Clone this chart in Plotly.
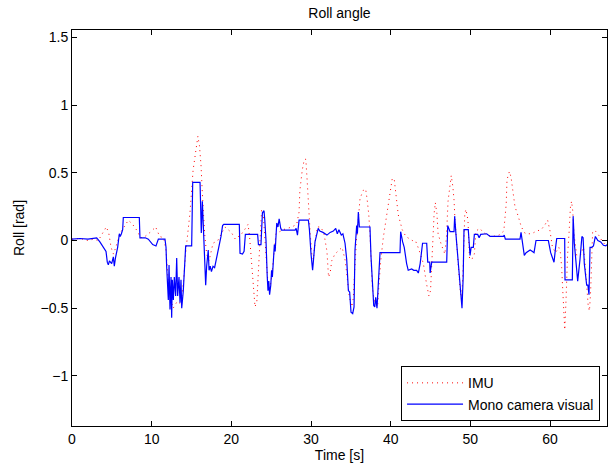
import plotly.graph_objects as go

# Mono camera visual (blue)
t_cam = [0, 1.0, 2.0, 3.1, 3.5, 3.93, 4.27, 4.43, 4.56, 4.7, 4.98, 5.19, 5.31, 5.45, 5.73, 5.94, 6.05, 6.2, 6.36, 6.44,
         8.45, 8.53, 9.2, 9.58, 10.13, 10.54, 10.84, 11.67, 11.8,
         11.88, 12.01, 12.09, 12.18, 12.30, 12.43, 12.51, 12.59, 12.72, 12.84, 13.01, 13.14, 13.26, 13.43, 13.56, 13.68,
         13.77, 13.97, 14.10, 14.18, 14.27, 15.02, 15.15, 16.07, 16.23, 16.36, 16.48, 16.6, 16.78, 16.9, 17.1, 17.2,
         17.35, 17.5, 17.7, 17.9, 18.16, 18.37, 18.6, 18.7, 18.9, 19.05, 21.0, 21.09, 21.4, 21.6, 21.76, 23.3, 23.4,
         23.72, 23.9, 24.1, 24.2, 24.35, 24.5, 24.6, 24.7, 24.8, 24.95, 25.05, 25.15, 25.4, 25.5, 25.7, 25.85, 26.0,
         26.2, 26.3, 28.0, 28.13, 28.3, 28.5, 29.67, 29.8, 30.0, 30.2, 30.3, 30.5, 30.9, 31.1, 31.5, 32.0, 32.4, 32.8,
         33.1, 33.3, 33.5, 33.8, 34.0, 34.27, 34.48, 34.69, 34.85, 35.02, 35.23, 35.4, 35.52, 35.73, 35.82, 35.94,
         36.07, 37.4, 37.53, 37.7, 37.87, 38.0, 38.12, 38.28, 38.45, 38.66, 41.17, 41.25, 41.5, 41.7, 42.0, 42.2,
         42.63, 42.9, 43.26, 43.47, 43.7, 44.0, 44.52, 44.65, 44.9, 44.95, 45.15, 47.03, 47.16, 47.3, 47.45, 47.95,
         48.03, 48.2, 48.4, 48.58, 48.79, 48.85, 48.95, 49.1, 49.2, 49.74, 49.87, 49.96, 50.1, 50.37, 50.5, 50.92,
         51.1, 51.3, 52.05, 52.47, 54.14, 54.25, 54.39, 56.23, 56.36, 56.6, 56.77, 57.0, 57.3, 57.5, 57.75, 57.99,
         58.24, 59.79, 60.08, 60.5, 60.7, 60.84, 61.84, 61.88, 62.8, 62.9, 63.05, 63.25, 63.47, 63.76, 64.0, 64.15,
         64.3, 64.6, 64.75, 64.89, 65.02, 65.23, 65.45, 65.69, 66.0, 66.36, 66.7, 67.0, 67.15]
roll_cam = [0.01, 0.015, 0.01, 0.02, -0.01, -0.05, -0.08, -0.16, -0.18, -0.15, -0.17, -0.12, -0.19, -0.13, -0.05, 0.05, 0.03, 0.05, 0.08, 0.17,
            0.17, 0.02, 0.02, 0.01, -0.03, -0.04, 0.01, 0.01, -0.05,
            -0.19, -0.30, -0.44, -0.18, -0.51, -0.27, -0.57, -0.29, -0.44, -0.27, -0.41, -0.13, -0.41, -0.27, -0.46, -0.29,
            -0.50, -0.37, -0.19, -0.09, -0.04, -0.04, 0.43, 0.43, 0.055, 0.29, 0.07, 0.0, -0.33, -0.19, -0.07, -0.22,
            -0.19, -0.23, -0.19, -0.2, -0.13, -0.07, -0.02, 0.03, 0.11, 0.12, 0.12, -0.095, -0.1, -0.08, 0.045, 0.045, -0.03,
            -0.03, 0.205, 0.22, 0.15, 0.0, -0.26, -0.37, -0.3, -0.4, -0.33, -0.22, -0.27, -0.03, -0.08, 0.13, 0.1, 0.16,
            0.09, 0.077, 0.077, 0.09, 0.04, 0.15, 0.15, 0.08, -0.1, -0.22, -0.15, -0.01, 0.09, 0.07, 0.06, 0.04, 0.06, 0.07,
            0.09, 0.05, 0.08, 0.04, 0.05, -0.02, -0.14, -0.37, -0.38, -0.53, -0.54, -0.49, -0.07, 0.11, 0.05, 0.21,
            0.10, 0.10, -0.12, -0.32, -0.48, -0.49, -0.42, -0.50, -0.28, -0.09, -0.09, 0.065, -0.01, -0.05, -0.17, -0.22,
            -0.21, -0.22, -0.22, -0.24, -0.17, -0.02, -0.02, -0.16, -0.16, -0.24, -0.16, -0.16, 0.11, 0.08, 0.065, 0.065,
            0.18, 0.04, -0.09, -0.24, -0.39, -0.44, -0.50, -0.27, 0.08, 0.08, -0.09, -0.11, -0.05, -0.05, 0.045, 0.045,
            0.02, 0.045, 0.05, 0.03, 0.03, 0.04, 0.01, 0.01, 0.06, -0.05, -0.11, -0.09, -0.08, -0.07, -0.08, -0.09,
            0.0, 0.0, -0.09, -0.16, -0.05, 0.015, 0.015, -0.29, -0.29, 0.18, -0.02, -0.19, -0.30, -0.14, 0.03, 0.02,
            -0.17, -0.33, -0.33, -0.40, -0.05, -0.05, -0.04, 0.03, 0.0, -0.01, -0.035, -0.04, -0.03]

# IMU (red dotted)
t_imu = [0, 1.0, 2.0, 2.7, 3.3, 3.8, 4.3, 4.6, 4.9, 5.2, 5.5, 6.0, 6.5, 7.07, 7.6, 8.2, 8.6, 9.16, 9.8, 10.5, 11.0,
         11.5, 11.8, 12.2, 12.7, 13.2, 13.7, 14.0, 14.27, 14.5, 14.8, 15.2, 15.65, 15.8, 16.0, 16.2, 16.36, 16.5,
         16.65, 16.9, 17.2, 17.7, 18.3, 19.2, 20.0, 20.5, 21.3, 21.9, 22.1, 22.3, 22.5, 22.7, 22.97, 23.2, 23.4,
         23.6, 23.8, 24.0, 24.2, 24.4, 24.6, 24.8, 25.0, 25.3, 25.6, 26.5, 27.6, 28.2, 28.5, 28.6, 28.9, 29.16,
         29.35, 29.5, 29.7, 29.9, 30.1, 30.3, 30.5, 30.8, 31.2, 31.6, 32.0, 32.2, 32.4, 32.6, 33.0, 33.9, 34.3,
         34.6, 34.8, 35.1, 35.3, 35.5, 35.7, 36.0, 36.15, 36.55, 36.86, 37.05, 37.25, 37.4, 37.55, 37.7, 37.95,
         38.35, 38.5, 38.75, 39.07, 39.5, 39.9, 40.2, 40.45, 40.75, 40.95, 41.45, 41.9, 42.7, 43.1, 43.5, 44.1,
         44.5, 44.8, 45.0, 45.15, 45.3, 45.45, 45.6, 45.8, 45.95, 46.35, 46.8, 47.0, 47.2, 47.4, 47.6, 47.8, 47.95,
         48.07, 48.3, 48.5, 48.7, 48.9, 49.1, 49.3, 49.45, 49.7, 49.9, 50.3, 50.5, 50.7, 51.2, 51.6, 52.2, 52.8,
         53.6, 54.2, 54.5, 54.6, 54.9, 55.1, 55.3, 55.6, 56.0, 56.4, 56.9, 57.7, 58.3, 58.9, 59.4, 59.7, 60.0,
         60.3, 60.7, 61.1, 61.3, 61.46, 61.6, 61.76, 61.85, 62.0, 62.2, 62.4, 62.55, 62.7, 62.85, 63.0, 63.35,
         63.8, 64.2, 64.4, 64.6, 64.8, 64.95, 65.1, 65.25, 65.35, 65.7, 66.1, 66.5, 66.9, 67.15]
roll_imu = [0.01, 0.015, 0.0, 0.01, 0.0, 0.05, 0.1, 0.06, -0.05, -0.1, -0.05, 0.05, 0.1, 0.15, 0.12, 0.07, 0.02, 0.03, 0.06, 0.1, 0.03,
            0.02, -0.07, -0.4, -0.5, -0.45, -0.47, -0.3, -0.09, 0.05, 0.2, 0.52, 0.74, 0.77, 0.7, 0.55, 0.35, 0.18,
            0.05, -0.1, -0.15, -0.02, 0.0, 0.1, 0.06, 0.01, 0.05, 0.1, 0.12, 0.02, -0.12, -0.29, -0.49, -0.45, -0.25,
            0.0, 0.23, 0.2, 0.05, -0.15, -0.32, -0.35, -0.3, -0.1, 0.05, 0.08, 0.1, 0.12, 0.21, 0.37, 0.52, 0.6,
            0.6, 0.46, 0.2, 0.05, -0.1, -0.14, -0.02, 0.1, 0.1, 0.06, -0.08, -0.27, -0.24, -0.15, -0.1, -0.05, -0.15,
            -0.29, -0.41, -0.49, -0.43, -0.2, 0.0, 0.2, 0.31, 0.37, 0.38, 0.3, 0.19, 0.05, -0.15, -0.35, -0.45,
            -0.49, -0.35, -0.15, 0.02, 0.2, 0.36, 0.46, 0.45, 0.3, 0.19, 0.08, 0.03, 0.0, 0.0, -0.06, -0.17,
            -0.32, -0.41, -0.37, -0.17, 0.07, 0.2, 0.28, 0.2, 0.05, -0.03, -0.1, 0.03, 0.29, 0.4, 0.48, 0.4, 0.3,
            0.15, -0.05, -0.22, -0.35, -0.44, -0.2, 0.2, 0.23, 0.15, -0.14, -0.13, -0.1, 0.07, 0.09, 0.06, 0.04, 0.03,
            0.04, 0.07, 0.27, 0.45, 0.51, 0.47, 0.38, 0.25, 0.18, 0.1, 0.05, 0.05, 0.07, 0.08, 0.12, 0.15, 0.07,
            -0.05, -0.09, -0.05, -0.09, -0.2, -0.37, -0.57, -0.66, -0.45, -0.11, 0.07, 0.24, 0.29, 0.22, 0.05, -0.11,
            -0.11, -0.05, -0.17, -0.3, -0.49, -0.52, -0.37, -0.1, 0.07, 0.07, 0.04, 0.0, -0.03, -0.03]

x_ticks = [0, 10, 20, 30, 40, 50, 60]
y_ticks = [-1, -0.5, 0, 0.5, 1, 1.5]
y_tick_labels = ["\u22121", "\u22120.5", "0", "0.5", "1", "1.5"]

FONT = "Liberation Sans, Arial, Helvetica, sans-serif"

fig = go.Figure()
fig.add_trace(go.Scatter(x=t_imu, y=roll_imu, mode="lines", name="IMU",
                         line=dict(color="rgb(255,0,0)", width=1, dash="1px,4px")))
fig.add_trace(go.Scatter(x=t_cam, y=roll_cam, mode="lines", name="Mono camera visual",
                         line=dict(color="rgb(0,0,255)", width=1.2)))

axis_common = dict(showline=True, linecolor="black", linewidth=1, mirror="ticks",
                   ticks="inside", ticklen=5, tickcolor="black", showgrid=False,
                   zeroline=False, tickfont=dict(family=FONT, size=14, color="black"))

fig.update_layout(
    width=611, height=469,
    margin=dict(l=72, r=4, t=30, b=43),
    paper_bgcolor="white", plot_bgcolor="white",
    font=dict(family=FONT, size=14, color="black"),
    title=dict(text="Roll angle", x=0.5556, xanchor="center", y=1 - 13 / 469, yanchor="middle",
               yref="container", font=dict(family=FONT, size=14, color="black")),
    xaxis=dict(range=[0, 67.15], tickvals=x_ticks, ticktext=[str(v) for v in x_ticks],
               title=dict(text="Time [s]", standoff=3, font=dict(family=FONT, size=14)), **axis_common),
    yaxis=dict(range=[-1.37, 1.555], tickvals=y_ticks, ticktext=y_tick_labels,
               title=dict(text="Roll [rad]", standoff=12, font=dict(family=FONT, size=14)), **axis_common),
    legend=dict(x=0.987, xanchor="right", y=0.012, yanchor="bottom",
                bordercolor="black", borderwidth=1, bgcolor="white", itemwidth=56,
                font=dict(family=FONT, size=14, color="black"), tracegroupgap=0),
    showlegend=True,
)

fig.write_html("out.html")
